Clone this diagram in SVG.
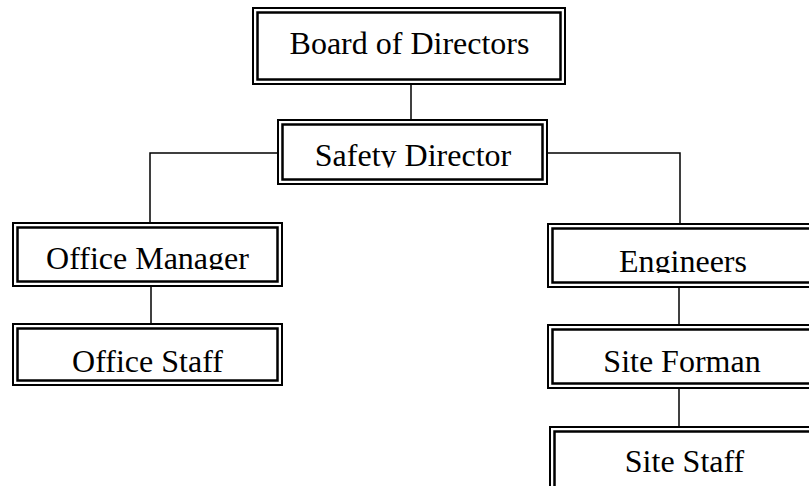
<svg xmlns="http://www.w3.org/2000/svg" width="809" height="486" viewBox="0 0 809 486">
<style>
.o{fill:none;stroke:#000;stroke-width:2}
.i{fill:none;stroke:#000;stroke-width:2.5}
.bg{fill:#fff}
.t{font-family:'Liberation Serif',serif;font-size:32px;fill:#000;text-anchor:middle}
.c{fill:none;stroke:#000;stroke-width:1.5}
</style>
<defs>
<clipPath id="clipSafety"><rect x="270" y="110" width="290" height="57.5"/></clipPath>
<clipPath id="clipOM"><rect x="0" y="215" width="300" height="55"/></clipPath>
<clipPath id="clipEng"><rect x="540" y="215" width="280" height="58"/></clipPath>
</defs>
<rect width="809" height="486" fill="#fff"/>
<g id="connectors">
<path class="c" d="M411,85 V119"/>
<path class="c" d="M277,153 H150 V222"/>
<path class="c" d="M548,153 H680 V223"/>
<path class="c" d="M151,287 V323"/>
<path class="c" d="M679,288 V324"/>
<path class="c" d="M679,389 V426"/>
</g>
<g id="board">
<rect class="bg" x="252" y="7" width="314" height="78"/>
<rect class="o" x="253" y="8" width="312" height="76"/>
<rect class="i" x="257.5" y="12.5" width="303" height="67"/>
<text class="t" font-family="Liberation Serif" x="409.5" y="54">Board of Directors</text>
</g>
<g id="safety">
<rect class="bg" x="277" y="119" width="271" height="66"/>
<rect class="o" x="278" y="120" width="269" height="64"/>
<rect class="i" x="282.5" y="124.5" width="260" height="55"/>
<text class="t" font-family="Liberation Serif" x="413" y="166" clip-path="url(#clipSafety)">Safety Director</text>
</g>
<g id="office-manager">
<rect class="bg" x="12" y="222" width="271" height="65"/>
<rect class="o" x="13" y="223" width="269" height="63"/>
<rect class="i" x="17.5" y="227.5" width="260" height="54"/>
<text class="t" font-family="Liberation Serif" x="147.5" y="269" clip-path="url(#clipOM)">Office Manager</text>
</g>
<g id="office-staff">
<rect class="bg" x="12" y="323" width="271" height="63"/>
<rect class="o" x="13" y="324" width="269" height="61"/>
<rect class="i" x="17.5" y="328.5" width="260" height="52"/>
<text class="t" font-family="Liberation Serif" x="147.5" y="372">Office Staff</text>
</g>
<g id="engineers">
<rect class="bg" x="547" y="223" width="272" height="65"/>
<rect class="o" x="548" y="224" width="270" height="63"/>
<rect class="i" x="552.5" y="228.5" width="261" height="54"/>
<text class="t" font-family="Liberation Serif" x="683" y="272" clip-path="url(#clipEng)">Engineers</text>
</g>
<g id="site-forman">
<rect class="bg" x="547" y="324" width="272" height="65"/>
<rect class="o" x="548" y="325" width="270" height="63"/>
<rect class="i" x="552.5" y="329.5" width="261" height="54"/>
<text class="t" font-family="Liberation Serif" x="682" y="372">Site Forman</text>
</g>
<g id="site-staff">
<rect class="bg" x="549" y="426" width="272" height="70"/>
<rect class="o" x="550" y="427" width="270" height="68"/>
<rect class="i" x="554.5" y="431.5" width="261" height="59"/>
<text class="t" font-family="Liberation Serif" x="684.5" y="472">Site Staff</text>
</g>
</svg>
